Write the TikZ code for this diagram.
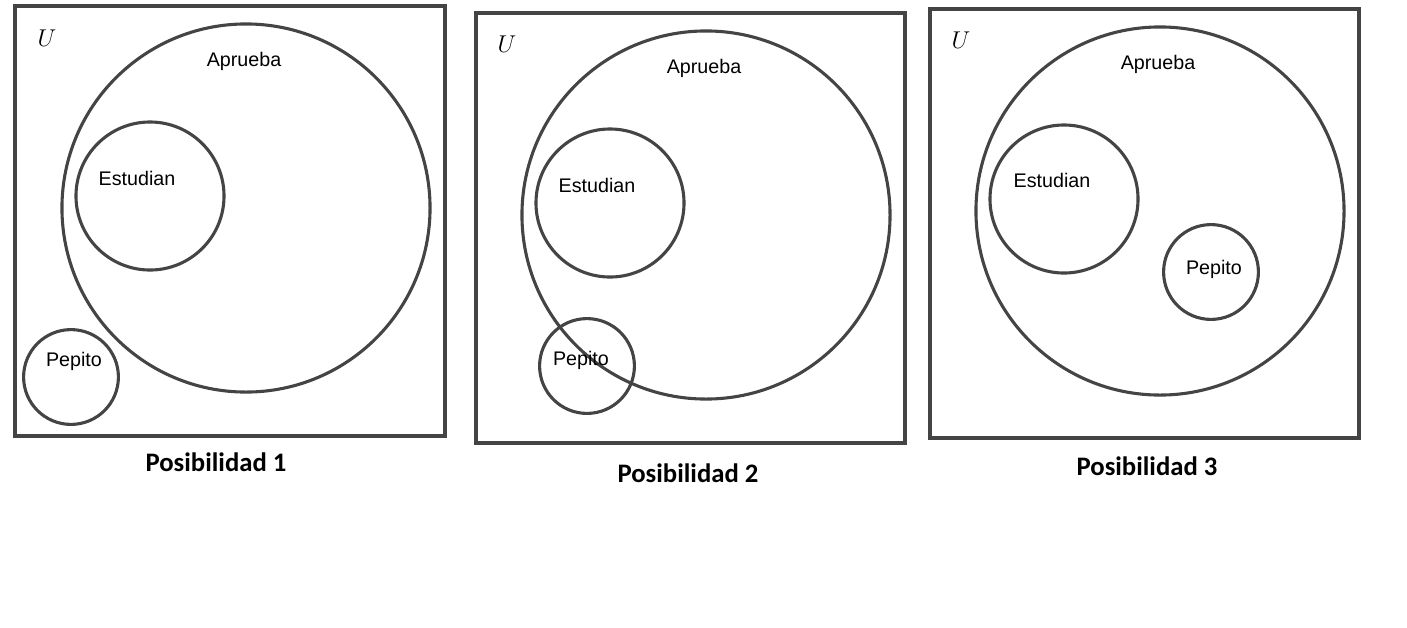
\documentclass[tikz,border=0pt]{standalone}
\usepackage{fontspec}
\setmainfont{Liberation Sans}
\newfontfamily\capfont{Carlito}
\usepackage{xcolor}
\usetikzlibrary{positioning}
\definecolor{linegray}{HTML}{444444}
\tikzset{
  universe/.style={draw=linegray, line width=2.2pt},
  setcircle/.style={
    circle, draw=linegray, line width=2.2pt, inner sep=0pt,
    minimum size=#1
  },
  setlabel/.style={font=\fontsize{14}{16}\selectfont, inner sep=0pt},
  ulabel/.style={font=\fontsize{18}{21}\selectfont, inner sep=0pt},
  caption/.style={font=\capfont\bfseries\fontsize{19}{22}\selectfont, inner sep=0pt}
}

\begin{document}
\begin{tikzpicture}[x=0.025cm, y=-0.025cm]
  \useasboundingbox (0,0) rectangle (1407,627);

  % Posibilidad 1
  \draw[universe] (15,6) rectangle (445,436);
  \node[setcircle=9.2cm] (ap1) at (246,208) {};
  \node[setcircle=3.7cm] (es1) at (150,196) {};
  \node[setcircle=2.37cm] (pe1) at (71,377) {};
  \node[ulabel] (u1) at (47,38) {$U$};
  \node[setlabel] (apl1) at (244,61) {Aprueba};
  \node[setlabel] (esl1) at (137,178) {Estudian};
  \node[setlabel] (pel1) at (74,361) {Pepito};
  \node[caption] (cap1) at (216,462) {Posibilidad 1};

  % Posibilidad 2
  \draw[universe] (476,13) rectangle (905,443);
  \node[setcircle=9.2cm] (ap2) at (706,215) {};
  \node[setcircle=3.7cm] (es2) at (610,203) {};
  \node[setcircle=2.37cm] (pe2) at (587,366) {};
  \node[ulabel] (u2) at (507,44) {$U$};
  \node[setlabel] (apl2) at (704,68) {Aprueba};
  \node[setlabel] (esl2) at (597,185) {Estudian};
  \node[setlabel] (pel2) at (581,360) {Pepito};
  \node[caption] (cap2) at (688,473) {Posibilidad 2};

  % Posibilidad 3
  \draw[universe] (930,9) rectangle (1359,438);
  \node[setcircle=9.2cm] (ap3) at (1160,211) {};
  \node[setcircle=3.7cm] (es3) at (1064,199) {};
  \node[setcircle=2.37cm] (pe3) at (1211,272) {};
  \node[ulabel] (u3) at (961,40) {$U$};
  \node[setlabel] (apl3) at (1158,64) {Aprueba};
  \node[setlabel] (esl3) at (1052,180) {Estudian};
  \node[setlabel] (pel3) at (1214,269) {Pepito};
  \node[caption] (cap3) at (1147,466) {Posibilidad 3};
\end{tikzpicture}
\end{document}
